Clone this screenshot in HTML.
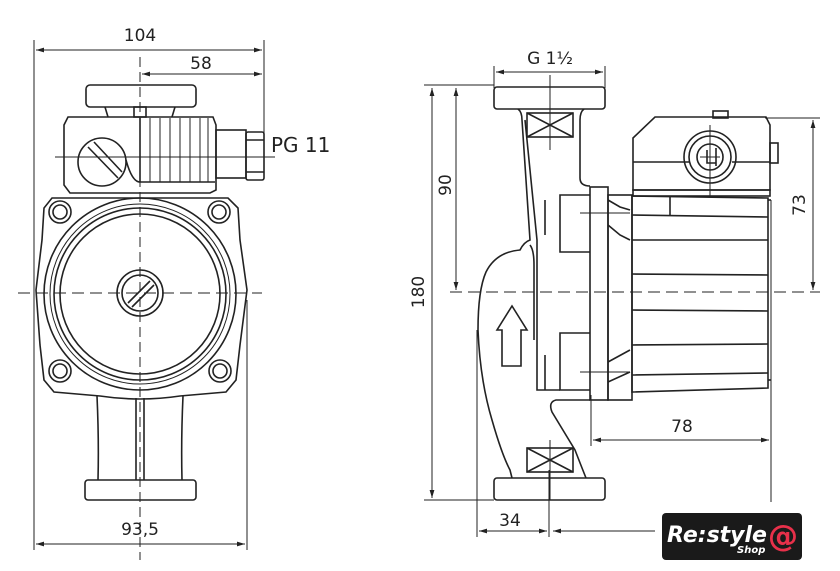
<!DOCTYPE html>
<html><head><meta charset="utf-8"><style>
html,body{margin:0;padding:0;background:#fff;}
svg{display:block}
text{font-family:"DejaVu Sans","Liberation Sans",sans-serif;fill:#222}
</style></head><body>
<svg width="840" height="571" viewBox="0 0 840 571" xmlns="http://www.w3.org/2000/svg">
<defs>
<marker id="a" viewBox="0 0 10 10" refX="10" refY="5" markerWidth="8" markerHeight="8" orient="auto-start-reverse"><path d="M0,2 L10,5 L0,8 z" fill="#222"/></marker>
</defs>
<g stroke="#222" fill="none" stroke-width="1">
<line x1="34" y1="40" x2="34" y2="550"/>
<line x1="264" y1="40" x2="264" y2="148"/>
<line x1="36" y1="50" x2="262" y2="50" marker-start="url(#a)" marker-end="url(#a)"/>
<line x1="142" y1="74" x2="262" y2="74" marker-start="url(#a)" marker-end="url(#a)"/>
<line x1="247" y1="300" x2="247" y2="550"/>
<line x1="36" y1="544" x2="245" y2="544" marker-start="url(#a)" marker-end="url(#a)"/>
<line x1="140" y1="57" x2="140" y2="560" stroke-dasharray="10,5"/>
<line x1="18" y1="293" x2="262" y2="293" stroke-dasharray="12,6"/>
<line x1="55" y1="157" x2="275" y2="157"/>
</g>
<g stroke="#222" fill="none" stroke-width="1.6">
<rect x="86" y="85" width="110" height="22" rx="4"/>
<path d="M105,107 L108,117 M175,107 L172,117"/>
<rect x="134" y="107" width="12" height="10"/>
<path d="M68,117 L213,117 L216,125 L216,190 L210,193 L70,193 L64,185 L64,125 Z"/>
<path d="M140,118 L140,182 L215,182"/>
<path d="M126,160 Q132,182 140,182"/>
<path d="M150,118 L150,182 M160,118 L160,182 M170,118 L170,182 M180,118 L180,182 M190,118 L190,182 M200,118 L200,182 M208,118 L208,182" stroke-width="1"/>
<circle cx="102" cy="162" r="24"/>
<path d="M88,147 L118,178 M94,142 L122,172"/>
<rect x="216" y="130" width="30" height="48"/>
<rect x="246" y="132" width="18" height="48" rx="2"/>
<path d="M246,140 L264,140 M246,172 L264,172"/>
<path d="M52,198 L228,198 L238,208 L240,240 L247,290 L240,345 L236,380 L226,392 L180,396 Q140,402 100,396 L54,392 L44,380 L40,345 L36,290 L42,240 L44,208 Z"/>
<circle cx="140" cy="294" r="96"/>
<circle cx="140" cy="294" r="90" stroke-width="1"/>
<circle cx="140" cy="294" r="86"/>
<circle cx="140" cy="294" r="80"/>
<circle cx="60" cy="212" r="11"/><circle cx="60" cy="212" r="7"/>
<circle cx="219" cy="212" r="11"/><circle cx="219" cy="212" r="7"/>
<circle cx="60" cy="371" r="11"/><circle cx="60" cy="371" r="7"/>
<circle cx="220" cy="371" r="11"/><circle cx="220" cy="371" r="7"/>
<circle cx="140" cy="293" r="23"/>
<circle cx="140" cy="293" r="18"/>
<path d="M128,303 L150,281 M132,307 L154,285"/>
<path d="M97,396 Q99,440 98,480 M183,396 Q181,440 182,480"/>
<path d="M136,398 L136,480 M144,398 L144,480"/>
<rect x="85" y="480" width="111" height="20" rx="3"/>
</g>
<text x="140" y="41" font-size="17" text-anchor="middle">104</text>
<text x="201" y="69" font-size="17" text-anchor="middle">58</text>
<text x="271" y="152" font-size="20" font-family="Liberation Sans">PG 11</text>
<text x="140" y="535" font-size="17" text-anchor="middle">93,5</text>

<g stroke="#222" fill="none" stroke-width="1">
<line x1="494" y1="66" x2="494" y2="88"/>
<line x1="605" y1="66" x2="605" y2="88"/>
<line x1="496" y1="72" x2="603" y2="72" marker-start="url(#a)" marker-end="url(#a)"/>
<line x1="424" y1="85" x2="494" y2="85"/>
<line x1="424" y1="500" x2="494" y2="500"/>
<line x1="432" y1="88" x2="432" y2="498" marker-start="url(#a)" marker-end="url(#a)"/>
<line x1="456" y1="88" x2="456" y2="290" marker-start="url(#a)" marker-end="url(#a)"/>
<line x1="450" y1="292" x2="820" y2="292" stroke-dasharray="12,6"/>
<line x1="765" y1="118" x2="820" y2="118"/>
<line x1="813" y1="120" x2="813" y2="290" marker-start="url(#a)" marker-end="url(#a)"/>
<line x1="771" y1="200" x2="771" y2="502"/>
<line x1="591" y1="395" x2="591" y2="446"/>
<line x1="593" y1="440" x2="769" y2="440" marker-start="url(#a)" marker-end="url(#a)"/>
<line x1="477" y1="330" x2="477" y2="537"/>
<line x1="549" y1="470" x2="549" y2="537"/>
<line x1="479" y1="531" x2="547" y2="531" marker-start="url(#a)" marker-end="url(#a)"/>
<line x1="553" y1="531" x2="655" y2="531" marker-start="url(#a)"/>
<line x1="550" y1="75" x2="550" y2="150"/>
<line x1="550" y1="440" x2="550" y2="500"/>
<line x1="580" y1="213" x2="630" y2="213"/>
<line x1="580" y1="372" x2="630" y2="372"/>
<line x1="700" y1="157" x2="720" y2="157"/>
</g>
<g stroke="#222" fill="none" stroke-width="1.6">
<rect x="494" y="87" width="111" height="22" rx="3"/>
<rect x="494" y="478" width="111" height="22" rx="3"/>
<rect x="527" y="113" width="46" height="24"/><path d="M527,113 L573,137 M573,113 L527,137"/>
<rect x="527" y="448" width="46" height="24"/><path d="M527,448 L573,472 M573,448 L527,472"/>
<!-- pump housing -->
<path d="M518,109 Q522,112 522,120 L530,240 Q524,242 520,250 Q496,252 486,272 Q478,290 478,330 Q480,380 492,420 Q502,455 510,470 L512,478"/>
<path d="M525,120 L537,240 L537,390 L560,390"/>
<path d="M530,245 Q534,250 534,265 L534,340"/>
<path d="M584,109 Q580,112 580,120 L580,178 Q580,186 590,186"/>
<path d="M590,400 L556,400 Q548,402 552,412 L575,450 Q582,468 586,478"/>
<path d="M545,200 L545,235 M545,355 L545,390"/>
<!-- hub / flange -->
<path d="M590,195 L560,195 L560,252 L590,252 M590,333 L560,333 L560,390 L590,390"/>
<rect x="590" y="187" width="18" height="213"/>
<rect x="608" y="195" width="24" height="205"/>
<path d="M608,200 L620,207 L630,210 M608,225 L620,235 L630,240 M608,382 L630,372 M608,362 L630,350"/>
<!-- motor head -->
<path d="M655,117 L766,117 L770,125 L770,190 L633,190 L633,138 Z"/>
<line x1="633" y1="162" x2="690" y2="162"/><line x1="732" y1="162" x2="770" y2="162"/>
<rect x="713" y="111" width="15" height="7"/>
<rect x="770" y="143" width="8" height="20"/>
<circle cx="710" cy="157" r="26"/>
<circle cx="710" cy="157" r="21"/>
<circle cx="710" cy="157" r="13"/>
<path d="M707,150 L707,163 L716,163 M716,148 L716,166"/>
<line x1="710" y1="125" x2="710" y2="197" stroke-width="1"/>
<rect x="633" y="190" width="137" height="6"/>
<path d="M632,196 L768,198 L768,388 L632,392 Z"/>
<path d="M632,215 L768,217 M632,240 L768,240 M632,274 L768,275 M632,310 L768,311 M632,345 L768,344 M632,375 L768,373"/>
<path d="M670,196 L670,215"/>
<line x1="768" y1="200" x2="771" y2="200"/><line x1="768" y1="380" x2="771" y2="380"/>
<path d="M502,366 L502,330 L497,330 L512,306 L527,330 L521,330 L521,366 Z"/>
</g>
<text x="550" y="64" font-size="17" text-anchor="middle">G 1½</text>
<text x="682" y="432" font-size="17" text-anchor="middle">78</text>
<text x="510" y="526" font-size="17" text-anchor="middle">34</text>
<text transform="translate(424,292) rotate(-90)" font-size="17" text-anchor="middle">180</text>
<text transform="translate(451,185) rotate(-90)" font-size="17" text-anchor="middle">90</text>
<text transform="translate(805,205) rotate(-90)" font-size="17" text-anchor="middle">73</text>

<rect x="662" y="513" width="140" height="47" rx="4" fill="#1a1a1a"/>
<text x="667" y="542" font-size="22" font-weight="bold" font-style="italic" style="fill:#fff" font-family="Liberation Sans">Re:style</text>
<text x="737" y="553" font-size="10" font-weight="bold" font-style="italic" style="fill:#fff" font-family="Liberation Sans">Shop</text>
<text x="768" y="546" font-size="30" font-weight="bold" style="fill:#e8304a" font-family="Liberation Sans">@</text>
</svg>
</body></html>
